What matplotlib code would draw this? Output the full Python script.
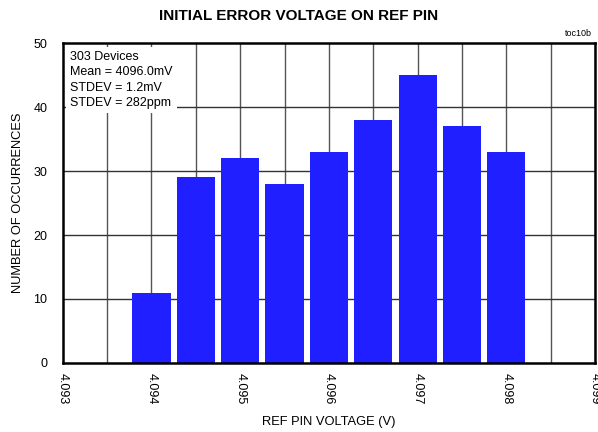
import matplotlib
matplotlib.use('Agg')
import matplotlib.pyplot as plt
import numpy as np

plt.rcParams['font.family'] = ['Liberation Sans', 'DejaVu Sans']

# histogram bins (V) and counts
bin_centers = [4.094, 4.0945, 4.095, 4.0955, 4.096, 4.0965, 4.097, 4.0975, 4.098]
counts = [11, 29, 32, 28, 33, 38, 45, 37, 33]
xticks = [4.093, 4.094, 4.095, 4.096, 4.097, 4.098, 4.099]
xtick_labels = ['4.093', '4.094', '4.095', '4.096', '4.097', '4.098', '4.099']
yticks = [0, 10, 20, 30, 40, 50]
stats_text = '303 Devices\nMean = 4096.0mV\nSTDEV = 1.2mV\nSTDEV = 282ppm'

fig = plt.figure(figsize=(5.98, 4.32), dpi=100)
ax = fig.add_axes([0.105, 0.16, 0.89, 0.74])

# grid
for x in np.arange(4.0935, 4.0990, 0.0005):
    ax.axvline(x, color='#555555', lw=1.0, zorder=1)
for y in yticks[1:-1]:
    ax.axhline(y, color='#333333', lw=1.0, zorder=1)

ax.bar(bin_centers, counts, width=0.00043, color='#1f1fff', zorder=3)

ax.set_xlim(4.093, 4.099)
ax.set_ylim(0, 50)
ax.set_xticks(xticks)
ax.set_xticklabels(xtick_labels, rotation=-90, fontsize=9)
ax.set_yticks(yticks)
ax.tick_params(axis='y', labelsize=9, length=0, pad=11)
ax.tick_params(axis='x', length=0, pad=7)
for s in ax.spines.values():
    s.set_linewidth(1.8)
    s.set_zorder(5)

ax.set_xlabel('REF PIN VOLTAGE (V)', fontsize=9.3, labelpad=9)
ax.set_ylabel('NUMBER OF OCCURRENCES', fontsize=9.3, va='center')
ax.yaxis.set_label_coords(-0.085, 0.5)
fig.text(0.5, 0.963, 'INITIAL ERROR VOLTAGE ON REF PIN', ha='center', va='center',
         fontsize=11, fontweight='bold')
fig.text(0.99, 0.923, 'toc10b', ha='right', va='center', fontsize=6.5)

ax.text(4.09308, 48.8, stats_text, ha='left', va='top', fontsize=9, linespacing=1.38,
        zorder=6, bbox=dict(facecolor='white', edgecolor='none', pad=3))

fig.savefig('out.png', dpi=100)
